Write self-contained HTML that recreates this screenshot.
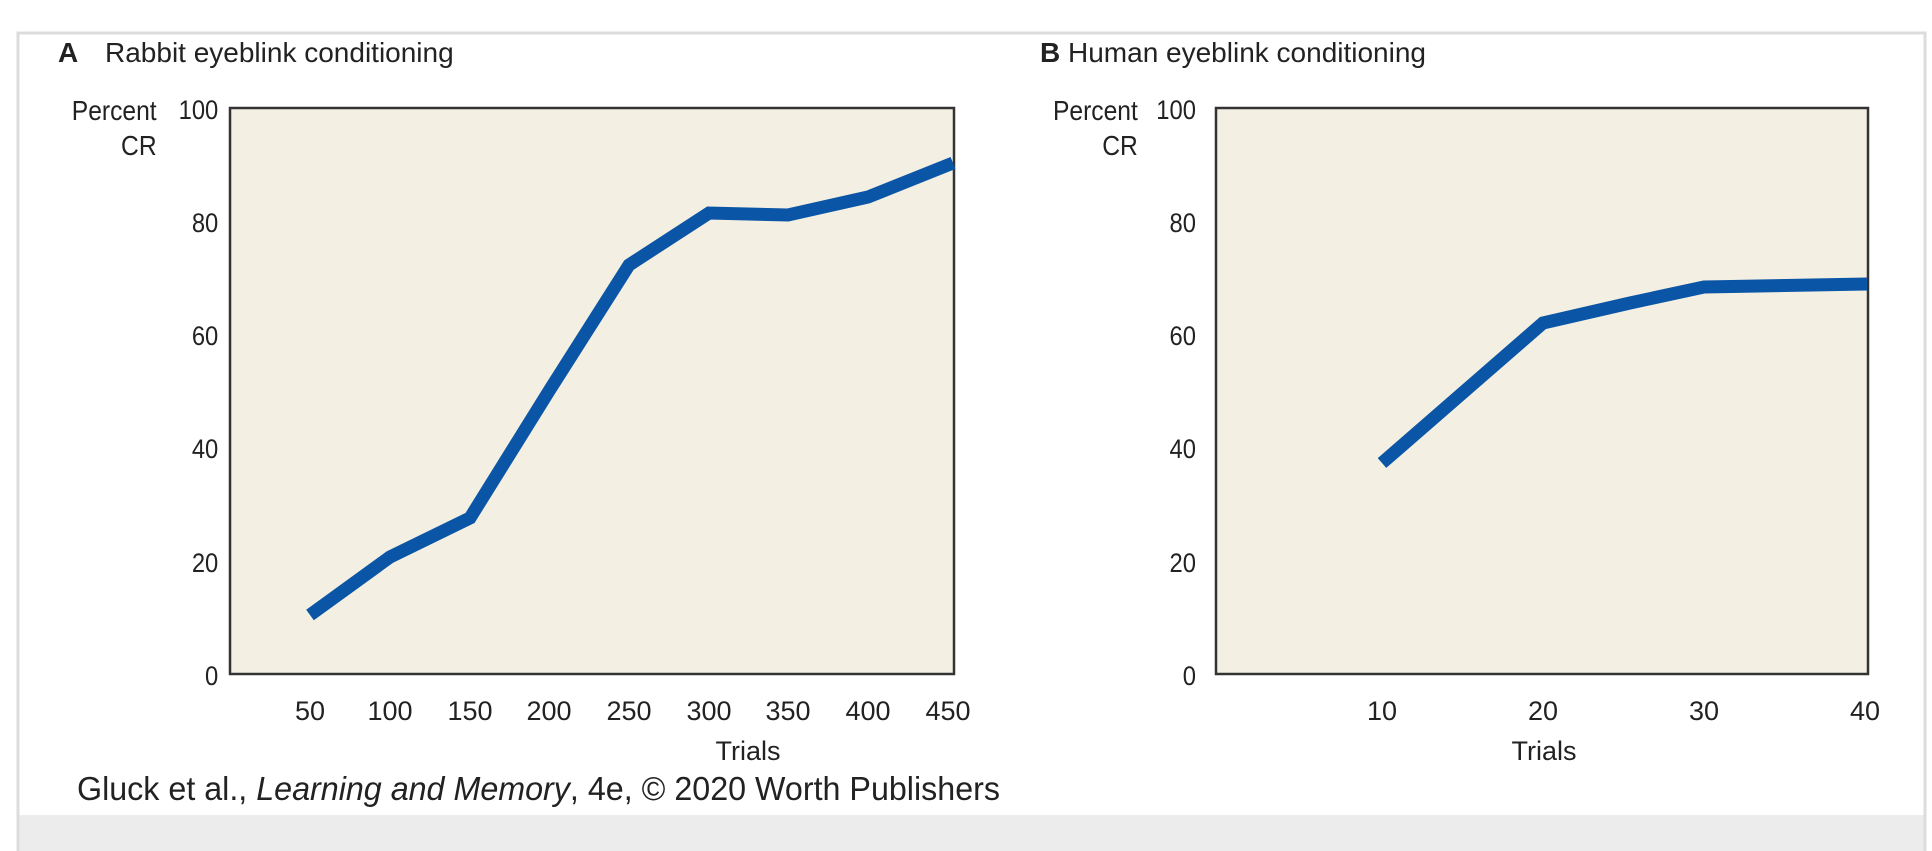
<!DOCTYPE html>
<html><head><meta charset="utf-8"><style>
html,body{margin:0;padding:0;background:#fff;width:1932px;height:851px;overflow:hidden}
</style></head><body>
<svg width="1932" height="851" xmlns="http://www.w3.org/2000/svg" font-family="Liberation Sans, sans-serif">
<rect x="0" y="0" width="1932" height="851" fill="#fff"/>
<rect x="17" y="815" width="1908" height="40" fill="#ececec"/>
<path d="M18 860 V33 H1925 V860" fill="none" stroke="#dcdcdc" stroke-width="3"/>
<!-- Titles -->
<text x="58" y="62" font-size="28" font-weight="bold" fill="#222">A</text>
<text x="105" y="62" font-size="28" fill="#222">Rabbit eyeblink conditioning</text>
<text x="1040" y="62" font-size="28" font-weight="bold" fill="#222">B</text>
<text x="1068" y="62" font-size="28" fill="#222">Human eyeblink conditioning</text>
<!-- Panel A -->
<rect x="230" y="108" width="724" height="566" fill="#f3efe3" stroke="#333" stroke-width="2.5"/>
<g font-size="28" fill="#222" transform="scale(0.88,1)">
<text x="178" y="120" text-anchor="end">Percent</text>
<text x="178" y="155" text-anchor="end">CR</text>
<text x="1293" y="120" text-anchor="end">Percent</text>
<text x="1293" y="155" text-anchor="end">CR</text>
</g>
<g font-size="27" fill="#222" text-anchor="end" transform="scale(0.88,1)">
<text x="248" y="119">100</text><text x="248" y="232">80</text><text x="248" y="345">60</text>
<text x="248" y="458">40</text><text x="248" y="572">20</text><text x="248" y="685">0</text>
<text x="1359" y="119">100</text><text x="1359" y="232">80</text><text x="1359" y="345">60</text>
<text x="1359" y="458">40</text><text x="1359" y="572">20</text><text x="1359" y="685">0</text>
</g>
<g font-size="27" fill="#222" text-anchor="middle">
<text x="310" y="720">50</text><text x="390" y="720">100</text><text x="470" y="720">150</text>
<text x="549" y="720">200</text><text x="629" y="720">250</text><text x="709" y="720">300</text>
<text x="788" y="720">350</text><text x="868" y="720">400</text><text x="948" y="720">450</text>
<text x="748" y="760">Trials</text>
<text x="1382" y="720">10</text><text x="1543" y="720">20</text><text x="1704" y="720">30</text><text x="1865" y="720">40</text>
<text x="1544" y="760">Trials</text>
</g>
<polyline fill="none" stroke="#0a55a6" stroke-width="13" stroke-linejoin="miter"
 points="310,615 390,557 470,518 549,391 629,265 709,213 788,215 868,197 953,163"/>
<!-- Panel B -->
<rect x="1216" y="108" width="652" height="566" fill="#f3efe3" stroke="#333" stroke-width="2.5"/>
<polyline fill="none" stroke="#0a55a6" stroke-width="13"
 points="1382,463 1543,323 1630,303 1704,287 1867,284"/>
<!-- Footer -->
<text x="77" y="800" font-size="33" fill="#222" textLength="923" lengthAdjust="spacingAndGlyphs">Gluck et al., <tspan font-style="italic">Learning and Memory</tspan>, 4e, © 2020 Worth Publishers</text>
</svg>
</body></html>
